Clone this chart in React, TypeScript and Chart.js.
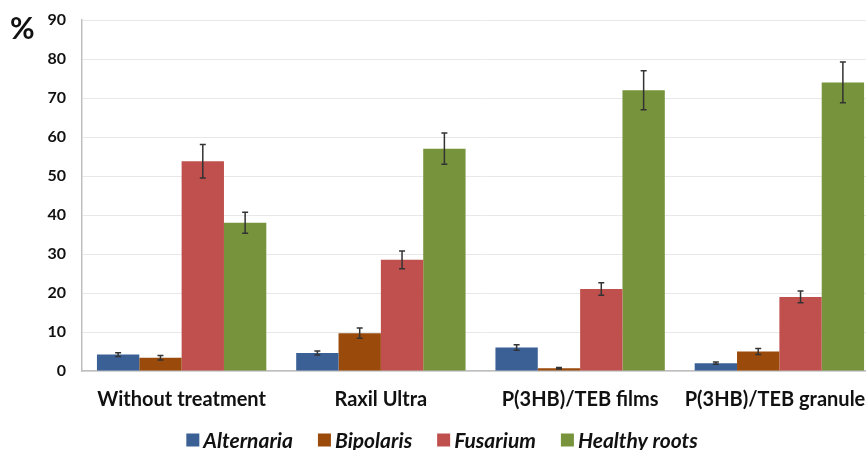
import React, { useEffect, useRef } from "react";
import { Chart, registerables } from "chart.js";

Chart.register(...registerables);

const categories = ["Without treatment", "Raxil Ultra", "P(3HB)/TEB films", "P(3HB)/TEB granules"];
const seriesNames = ["Alternaria", "Bipolaris", "Fusarium", "Healthy roots"];
const alternaria = [4.2, 4.6, 6.0, 2.0];
const alternariaErr = [0.5, 0.5, 0.7, 0.3];
const bipolaris = [3.4, 9.7, 0.7, 5.0];
const bipolarisErr = [0.6, 1.3, 0.2, 0.8];
const fusarium = [53.8, 28.5, 21.0, 19.0];
const fusariumErr = [4.3, 2.3, 1.6, 1.5];
const healthy = [38.0, 57.0, 72.0, 74.0];
const healthyErr = [2.7, 4.0, 5.0, 5.2];
const colors = ["#3A6096", "#9A4A0A", "#C0504D", "#77933C"];
const yTicks = [0, 10, 20, 30, 40, 50, 60, 70, 80, 90];

const FONT = "Lato, 'Open Sans', sans-serif";

const errorBarPlugin = {
  id: "errorBars",
  afterDatasetsDraw(chart: any) {
    const ctx = chart.ctx;
    const y = chart.scales.y;
    ctx.save();
    ctx.strokeStyle = "#333";
    ctx.lineWidth = 1.5;
    chart.data.datasets.forEach((ds: any, i: number) => {
      const meta = chart.getDatasetMeta(i);
      meta.data.forEach((bar: any, j: number) => {
        const v = ds.data[j];
        const e = ds.errors[j];
        const top = y.getPixelForValue(v + e);
        const bot = y.getPixelForValue(Math.max(0, v - e));
        ctx.beginPath();
        ctx.moveTo(bar.x, top);
        ctx.lineTo(bar.x, bot);
        ctx.moveTo(bar.x - 3, top);
        ctx.lineTo(bar.x + 3, top);
        ctx.moveTo(bar.x - 3, bot);
        ctx.lineTo(bar.x + 3, bot);
        ctx.stroke();
      });
    });
    ctx.restore();
  },
};

const extrasPlugin = {
  id: "extras",
  afterDraw(chart: any) {
    const ctx = chart.ctx;
    ctx.save();
    ctx.fillStyle = "#111";
    ctx.font = `bold 30px ${FONT}`;
    ctx.textAlign = "left";
    ctx.textBaseline = "alphabetic";
    ctx.fillText("%", 10, 39);

    // legend
    ctx.font = `italic bold 21px ${FONT}`;
    const box = 13;
    const gapText = 4;
    const gapItem = 25;
    const widths = seriesNames.map((n) => ctx.measureText(n).width);
    const total = widths.reduce((a, w) => a + box + gapText + w, 0) + gapItem * (seriesNames.length - 1);
    let x = 442 - total / 2;
    const cy = 440;
    seriesNames.forEach((n, i) => {
      ctx.fillStyle = colors[i];
      ctx.fillRect(x, cy - box / 2, box, box);
      x += box + gapText;
      ctx.fillStyle = "#111";
      ctx.textBaseline = "middle";
      ctx.fillText(n, x, cy + 1);
      x += widths[i] + gapItem;
    });
    ctx.restore();
  },
};

export default function App() {
  const ref = useRef<HTMLCanvasElement>(null);
  useEffect(() => {
    if (!ref.current) return;
    const values = [alternaria, bipolaris, fusarium, healthy];
    const errs = [alternariaErr, bipolarisErr, fusariumErr, healthyErr];
    const chart = new Chart(ref.current, {
      type: "bar",
      data: {
        labels: categories,
        datasets: seriesNames.map((name, i) => ({
          label: name,
          data: values[i],
          errors: errs[i],
          backgroundColor: colors[i],
          borderWidth: 0,
          categoryPercentage: 0.85,
          barPercentage: 1.0,
        })) as any,
      },
      options: {
        responsive: false,
        animation: false,
        layout: { padding: { top: 20, right: 5, left: 0, bottom: 0 } },
        plugins: { legend: { display: false }, tooltip: { enabled: false } },
        scales: {
          x: {
            grid: { display: false, drawTicks: false },
            border: { display: true, color: "#BFBFBF", width: 1.5 },
            ticks: {
              color: "#111",
              font: { family: FONT, size: 20, weight: "bold" },
              padding: 17,
              maxRotation: 0,
              autoSkip: false,
            },
            afterFit(scale: any) {
              scale.height = 79;
              scale.paddingLeft = 0;
              scale.paddingRight = 0;
            },
          },
          y: {
            min: 0,
            max: 90,
            afterBuildTicks(scale: any) {
              scale.ticks = yTicks.map((v) => ({ value: v }));
            },
            grid: { color: "#E8E8E8", lineWidth: 1, drawTicks: false },
            border: { display: true, color: "#BFBFBF", width: 1.5 },
            ticks: {
              color: "#111",
              font: { family: FONT, size: 16, weight: "bold" },
              padding: 16,
            },
            afterFit(scale: any) {
              scale.width = 82;
              scale.paddingTop = 0;
              scale.paddingBottom = 0;
            },
          },
        },
      },
      plugins: [errorBarPlugin, extrasPlugin],
    });
    return () => chart.destroy();
  }, []);
  return (
    <div style={{ position: "fixed", left: 0, top: 0, width: 866, height: 450, overflow: "hidden", background: "#fff" }}>
      <canvas ref={ref} width={884} height={450} style={{ display: "block" }} />
    </div>
  );
}
